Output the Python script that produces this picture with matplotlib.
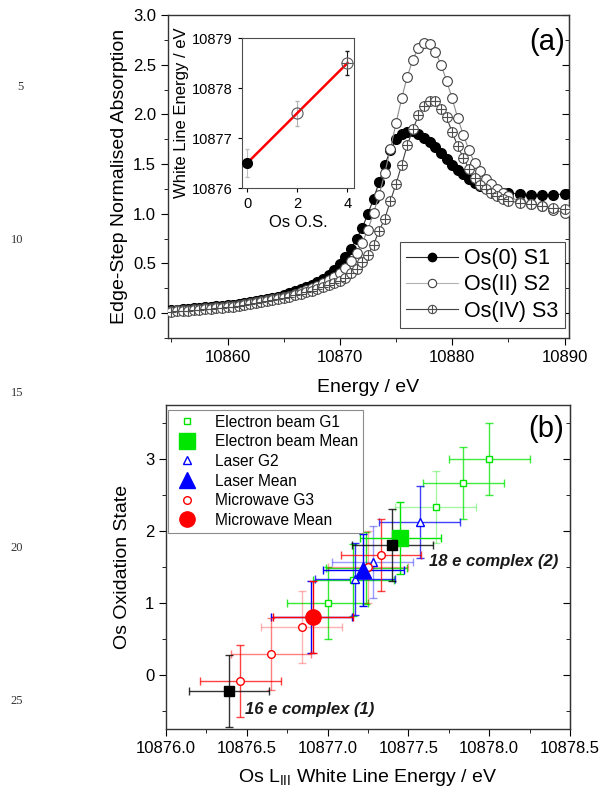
import numpy as np
import matplotlib
matplotlib.use('Agg')
import matplotlib.pyplot as plt
from matplotlib.lines import Line2D
from matplotlib.legend_handler import HandlerTuple
from matplotlib.ticker import MultipleLocator

plt.rcParams['font.family'] = ['Liberation Sans', 'DejaVu Sans']
plt.rcParams['mathtext.fontset'] = 'custom'
plt.rcParams['mathtext.rm'] = 'Liberation Sans'
plt.rcParams['mathtext.it'] = 'Liberation Sans:italic'

# ---------------- data: panel (a) ----------------
energy = np.concatenate([np.arange(10855.0, 10885.01, 0.5), np.arange(10886.0, 10890.01, 1.0)])

os0_s1 = [0.03, 0.03, 0.04, 0.04, 0.05, 0.05, 0.06, 0.06, 0.07, 0.07,
          0.08, 0.08, 0.09, 0.10, 0.11, 0.12, 0.13, 0.14, 0.15, 0.16,
          0.18, 0.20, 0.22, 0.24, 0.26, 0.28, 0.31, 0.34, 0.38, 0.43,
          0.49, 0.57, 0.65, 0.75, 0.86, 1.00, 1.15, 1.32, 1.49, 1.64,
          1.75, 1.80, 1.82, 1.83, 1.80, 1.76, 1.72, 1.67, 1.61, 1.55,
          1.49, 1.44, 1.40, 1.35, 1.31, 1.28, 1.26, 1.24, 1.22, 1.21,
          1.21, 1.20, 1.19, 1.19, 1.19, 1.20]

os2_s2 = [0.02, 0.03, 0.03, 0.03, 0.04, 0.04, 0.05, 0.05, 0.06, 0.06,
          0.07, 0.07, 0.08, 0.09, 0.10, 0.11, 0.12, 0.13, 0.14, 0.15,
          0.16, 0.17, 0.19, 0.21, 0.23, 0.25, 0.27, 0.30, 0.33, 0.36,
          0.40, 0.45, 0.52, 0.61, 0.71, 0.84, 1.01, 1.19, 1.41, 1.65,
          1.91, 2.16, 2.38, 2.55, 2.67, 2.72, 2.71, 2.63, 2.50, 2.34,
          2.16, 1.96, 1.79, 1.64, 1.51, 1.43, 1.35, 1.30, 1.25, 1.21,
          1.18, 1.12, 1.10, 1.08, 1.04, 1.01]

os4_s3 = [0.01, 0.02, 0.02, 0.02, 0.03, 0.03, 0.04, 0.04, 0.05, 0.05,
          0.06, 0.06, 0.07, 0.08, 0.09, 0.10, 0.11, 0.12, 0.13, 0.14,
          0.15, 0.16, 0.18, 0.19, 0.21, 0.22, 0.24, 0.26, 0.28, 0.30,
          0.32, 0.35, 0.40, 0.44, 0.51, 0.59, 0.69, 0.83, 0.95, 1.13,
          1.30, 1.49, 1.69, 1.85, 1.99, 2.08, 2.13, 2.13, 2.05, 1.97,
          1.82, 1.68, 1.56, 1.45, 1.36, 1.29, 1.25, 1.21, 1.18, 1.15,
          1.13, 1.11, 1.10, 1.08, 1.06, 1.05]

series_labels = ['Os(0) S1', 'Os(II) S2', 'Os(IV) S3']

# inset
inset_os = [0, 2, 4]
inset_wle = [10876.5, 10877.5, 10878.5]
inset_err = [0.27, 0.25, 0.24]

# ---------------- data: panel (b) ----------------
g1_x = [10878.00, 10877.84, 10877.67, 10877.00, 10877.16, 10877.24]
g1_y = [3.00, 2.66, 2.33, 1.00, 1.32, 1.49]
g1_mean_x, g1_mean_y = 10877.45, 1.90
g2_x = [10877.57, 10877.28, 10877.17, 10876.90]
g2_y = [2.13, 1.57, 1.34, 0.80]
g2_mean_x, g2_mean_y = 10877.22, 1.46
g3_x = [10876.46, 10876.65, 10876.84, 10877.25, 10877.33]
g3_y = [-0.09, 0.29, 0.66, 1.50, 1.66]
g3_mean_x, g3_mean_y = 10876.91, 0.81
ref_x = [10876.39, 10877.40]
ref_y = [-0.22, 1.80]
x_err = 0.25
y_err = 0.5

group_labels = ['Electron beam G1', 'Electron beam Mean', 'Laser G2', 'Laser Mean',
                'Microwave G3', 'Microwave Mean']
complex_labels = ['16 e complex (1)', '18 e complex (2)']

# ---------------- styles ----------------
GREEN = '#00e600'
BLUE = '#0000ff'
RED = '#ff0000'
g1_alpha = [0.75, 0.75, 0.35, 0.8, 0.85, 0.85]
g2_alpha = [0.75, 0.4, 0.8, 1.0]
g3_alpha = [0.75, 0.5, 0.3, 0.35, 0.75]

fig = plt.figure(figsize=(6.02, 7.87), dpi=100)

W, H = 602.0, 787.0
def axrect(l, t, r, b):
    return [l / W, 1 - b / H, (r - l) / W, (b - t) / H]

# ======== panel (a) ========
ax1 = fig.add_axes(axrect(168, 15, 569, 338))
ax1.plot(energy, os0_s1, '-', color='0.15', lw=0.8, marker='o', ms=7,
         mfc='black', mec='black', zorder=3)
ax1.plot(energy, os2_s2, '-', color='0.55', lw=0.8, marker='o', ms=7,
         mfc='white', mec='0.25', mew=0.8, zorder=4)
ax1.plot(energy, os4_s3, '-', color='0.25', lw=0.8, marker='o', ms=7,
         mfc='white', mec='0.3', mew=0.8, zorder=5)
ax1.plot(energy, os4_s3, ls='none', marker='+', ms=7, mec='0.3', mew=0.8, zorder=6)

ax1.set_xlim(10854.7, 10890.4)
ax1.set_ylim(-0.25, 3.0)
ax1.xaxis.set_major_locator(MultipleLocator(10))
ax1.xaxis.set_minor_locator(MultipleLocator(5))
ax1.yaxis.set_major_locator(MultipleLocator(0.5))
ax1.yaxis.set_minor_locator(MultipleLocator(0.25))
ax1.yaxis.set_major_formatter(matplotlib.ticker.FormatStrFormatter('%.1f'))
ax1.tick_params(which='both', direction='out', labelsize=12, top=False, right=False)
ax1.tick_params(which='major', length=5)
ax1.tick_params(which='minor', length=3)
sec1 = ax1.secondary_yaxis('right')
sec1.yaxis.set_major_locator(MultipleLocator(0.5))
sec1.yaxis.set_minor_locator(MultipleLocator(0.25))
sec1.tick_params(which='both', direction='in', labelright=False)
sec1.tick_params(which='major', length=5)
sec1.tick_params(which='minor', length=3)
ax1.set_xlabel('Energy / eV', fontsize=14, labelpad=10)
ax1.set_ylabel('Edge-Step Normalised Absorption', fontsize=14, labelpad=4)
ax1.text(0.945, 0.915, '(a)', transform=ax1.transAxes, fontsize=21,
         ha='center', va='center')

h1 = Line2D([], [], color='0.15', lw=0.8, marker='o', ms=6, mfc='black', mec='black')
h2 = Line2D([], [], color='0.7', lw=0.8, marker='o', ms=6, mfc='white', mec='0.25', mew=0.8)
h3a = Line2D([], [], color='0.25', lw=0.8, marker='o', ms=6, mfc='white', mec='0.3', mew=0.8)
h3b = Line2D([], [], ls='none', marker='+', ms=6, mec='0.3', mew=0.8)
leg1 = ax1.legend([h1, h2, (h3a, h3b)], series_labels,
                  handler_map={tuple: HandlerTuple(ndivide=1, pad=0)},
                  loc='lower right', bbox_to_anchor=(0.99, 0.03), borderaxespad=0,
                  fontsize=15.5, handlelength=2.4, labelspacing=0.25,
                  handletextpad=0.3, borderpad=0.3, fancybox=False,
                  edgecolor='0.3', framealpha=1)
leg1.get_frame().set_linewidth(0.8)

# inset
axin = fig.add_axes(axrect(241.7, 38, 354, 188))
fit = np.polyfit(inset_os, inset_wle, 1)
xfit = np.array([inset_os[0], inset_os[-1]])
axin.plot(xfit, np.polyval(fit, xfit), color='red', lw=1.8, zorder=2)
ecols = ['0.75', '0.7', '0.1']
for i in range(3):
    axin.errorbar(inset_os[i], inset_wle[i], yerr=inset_err[i], fmt='none',
                  ecolor=ecols[i], elinewidth=0.8, capsize=1.5, zorder=1)
axin.plot(inset_os[0], inset_wle[0], 'o', ms=7, mfc='black', mec='black', zorder=3)
axin.plot(inset_os[1], inset_wle[1], 'o', ms=8, mfc='none', mec='0.35', mew=0.8, zorder=3)
axin.plot(inset_os[2], inset_wle[2], 'o', ms=8, mfc='none', mec='0.35', mew=0.8, zorder=3)
axin.plot(inset_os[2], inset_wle[2], '+', ms=8, mec='0.35', mew=0.8, zorder=3)
axin.set_xlim(-0.22, 4.26)
axin.set_ylim(10876, 10879)
axin.xaxis.set_major_locator(MultipleLocator(2))
axin.yaxis.set_major_locator(MultipleLocator(1))
axin.yaxis.set_major_formatter(matplotlib.ticker.FormatStrFormatter('%d'))
axin.tick_params(labelsize=10.5, length=3, direction='out')
axin.set_xlabel('Os O.S.', fontsize=12, labelpad=3)
axin.set_ylabel('White Line Energy / eV', fontsize=12, labelpad=2)
for s in axin.spines.values():
    s.set_linewidth(0.8)
    s.set_color('0.3')

# ======== panel (b) ========
ax2 = fig.add_axes(axrect(166, 405, 570, 729))

def ebar(x, y, color, alpha, z=2):
    ax2.errorbar(x, y, xerr=x_err, yerr=y_err, fmt='none', ecolor=color,
                 elinewidth=1.0, capsize=3, capthick=1.0, alpha=alpha, zorder=z)

for x, y, a in zip(g1_x, g1_y, g1_alpha):
    ebar(x, y, GREEN, a)
for x, y, a in zip(g2_x, g2_y, g2_alpha):
    ebar(x, y, BLUE, a)
for x, y, a in zip(g3_x, g3_y, g3_alpha):
    ebar(x, y, RED, a)
ebar(g1_mean_x, g1_mean_y, GREEN, 1.0)
ebar(g2_mean_x, g2_mean_y, BLUE, 1.0)
ebar(g3_mean_x, g3_mean_y, RED, 1.0)
for x, y in zip(ref_x, ref_y):
    ebar(x, y, 'black', 0.8, z=3)

ax2.plot(g1_x, g1_y, 's', ls='none', ms=5, mfc='white', mec=GREEN, mew=1.0, zorder=5)
ax2.plot(g2_x, g2_y, '^', ls='none', ms=5.5, mfc='white', mec=BLUE, mew=1.0, zorder=5)
ax2.plot(g3_x, g3_y, 'o', ls='none', ms=5.5, mfc='white', mec=RED, mew=1.0, zorder=5)
ax2.plot([g1_mean_x], [g1_mean_y], 's', ms=11, mfc=GREEN, mec=GREEN, zorder=6)
ax2.plot([g2_mean_x], [g2_mean_y], '^', ms=11, mfc=BLUE, mec=BLUE, zorder=6)
ax2.plot([g3_mean_x], [g3_mean_y], 'o', ms=11, mfc=RED, mec=RED, zorder=6)
ax2.plot(ref_x, ref_y, 's', ls='none', ms=7, mfc='black', mec='black', zorder=7)

ax2.text(10876.49, -0.48, complex_labels[0], fontsize=12, fontweight='bold',
         style='italic', ha='left', va='center', color='0.1')
ax2.text(10877.63, 1.57, complex_labels[1], fontsize=12, fontweight='bold',
         style='italic', ha='left', va='center', color='0.1')

ax2.set_xlim(10876.0, 10878.5)
ax2.set_ylim(-0.75, 3.75)
ax2.xaxis.set_major_locator(MultipleLocator(0.5))
ax2.xaxis.set_minor_locator(MultipleLocator(0.25))
ax2.xaxis.set_major_formatter(matplotlib.ticker.FormatStrFormatter('%.1f'))
ax2.yaxis.set_major_locator(MultipleLocator(1))
ax2.yaxis.set_minor_locator(MultipleLocator(0.5))
ax2.tick_params(which='both', direction='out', labelsize=12, top=False, right=False)
ax2.tick_params(which='major', length=5)
ax2.tick_params(which='minor', length=3)
sec2 = ax2.secondary_yaxis('right')
sec2.yaxis.set_major_locator(MultipleLocator(1))
sec2.yaxis.set_minor_locator(MultipleLocator(0.5))
sec2.tick_params(which='both', direction='in', labelright=False)
sec2.tick_params(which='major', length=5)
sec2.tick_params(which='minor', length=3)
ax2.set_xlabel(r'Os L$_{\mathrm{III}}$ White Line Energy / eV', fontsize=14, labelpad=8)
ax2.set_ylabel('Os Oxidation State', fontsize=14, labelpad=10)
ax2.text(0.94, 0.925, '(b)', transform=ax2.transAxes, fontsize=21,
         ha='center', va='center')

lh = [Line2D([], [], ls='none', marker='s', ms=5, mfc='white', mec=GREEN, mew=1.0),
      Line2D([], [], ls='none', marker='s', ms=11, mfc=GREEN, mec=GREEN),
      Line2D([], [], ls='none', marker='^', ms=5.5, mfc='white', mec=BLUE, mew=1.0),
      Line2D([], [], ls='none', marker='^', ms=11, mfc=BLUE, mec=BLUE),
      Line2D([], [], ls='none', marker='o', ms=5.5, mfc='white', mec=RED, mew=1.0),
      Line2D([], [], ls='none', marker='o', ms=11, mfc=RED, mec=RED)]
leg2 = ax2.legend(lh, group_labels, loc='upper left', bbox_to_anchor=(0.005, 0.985),
                  borderaxespad=0, fontsize=11.2, handlelength=1.8, labelspacing=0.3,
                  handletextpad=0.9, borderpad=0.3, fancybox=False,
                  edgecolor='0.55', framealpha=1)
leg2.get_frame().set_linewidth(0.8)

for ax in (ax1, ax2):
    for s in ax.spines.values():
        s.set_linewidth(1.0)
        s.set_color('0.2')

# line numbers in the left margin
for num, ypx in [(5, 87), (10, 240), (15, 393), (20, 548), (25, 701)]:
    fig.text(23 / W, 1 - ypx / H, str(num), ha='right', va='center',
             family=['Liberation Serif', 'DejaVu Serif'], fontsize=9, color='0.2')

fig.savefig('out.png', dpi=100)
